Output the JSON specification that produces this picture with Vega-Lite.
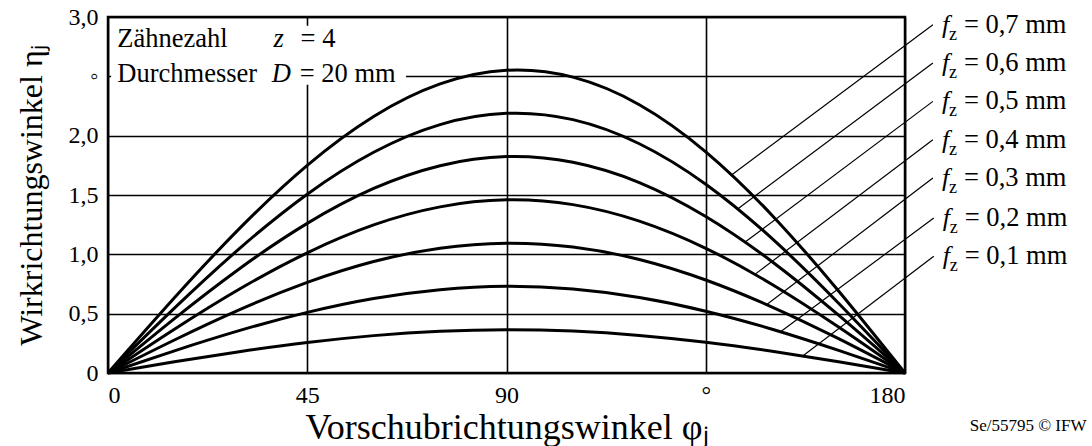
{
  "$schema": "https://vega.github.io/schema/vega-lite/v6.json",
  "width": 797,
  "height": 356,
  "autosize": "none",
  "padding": {"left": 108, "top": 17, "right": 187, "bottom": 73},
  "background": "white",
  "config": {
    "font": "Liberation Serif",
    "view": {"stroke": "black", "strokeWidth": 2.5},
    "axis": {
      "labelFont": "Liberation Serif",
      "titleFont": "Liberation Serif",
      "labelColor": "black",
      "titleColor": "black",
      "titleFontWeight": "normal",
      "grid": true,
      "gridColor": "black",
      "gridWidth": 1.6,
      "gridOpacity": 1,
      "ticks": false,
      "domain": false
    }
  },
  "datasets": {
    "curves": [
      {"fz": 0.1, "phi": 0, "eta": 0}, {"fz": 0.1, "phi": 15, "eta": 0.094}, {"fz": 0.1, "phi": 30, "eta": 0.181}, {"fz": 0.1, "phi": 45, "eta": 0.257}, {"fz": 0.1, "phi": 60, "eta": 0.315}, {"fz": 0.1, "phi": 75, "eta": 0.352}, {"fz": 0.1, "phi": 90, "eta": 0.365}, {"fz": 0.1, "phi": 105, "eta": 0.353}, {"fz": 0.1, "phi": 120, "eta": 0.317}, {"fz": 0.1, "phi": 135, "eta": 0.259}, {"fz": 0.1, "phi": 150, "eta": 0.183}, {"fz": 0.1, "phi": 165, "eta": 0.095}, {"fz": 0.1, "phi": 180, "eta": 0},
      {"fz": 0.2, "phi": 0, "eta": 0}, {"fz": 0.2, "phi": 15, "eta": 0.187}, {"fz": 0.2, "phi": 30, "eta": 0.361}, {"fz": 0.2, "phi": 45, "eta": 0.511}, {"fz": 0.2, "phi": 60, "eta": 0.628}, {"fz": 0.2, "phi": 75, "eta": 0.702}, {"fz": 0.2, "phi": 90, "eta": 0.730}, {"fz": 0.2, "phi": 105, "eta": 0.707}, {"fz": 0.2, "phi": 120, "eta": 0.636}, {"fz": 0.2, "phi": 135, "eta": 0.521}, {"fz": 0.2, "phi": 150, "eta": 0.369}, {"fz": 0.2, "phi": 165, "eta": 0.191}, {"fz": 0.2, "phi": 180, "eta": 0},
      {"fz": 0.3, "phi": 0, "eta": 0}, {"fz": 0.3, "phi": 15, "eta": 0.278}, {"fz": 0.3, "phi": 30, "eta": 0.538}, {"fz": 0.3, "phi": 45, "eta": 0.763}, {"fz": 0.3, "phi": 60, "eta": 0.939}, {"fz": 0.3, "phi": 75, "eta": 1.052}, {"fz": 0.3, "phi": 90, "eta": 1.094}, {"fz": 0.3, "phi": 105, "eta": 1.062}, {"fz": 0.3, "phi": 120, "eta": 0.957}, {"fz": 0.3, "phi": 135, "eta": 0.784}, {"fz": 0.3, "phi": 150, "eta": 0.556}, {"fz": 0.3, "phi": 165, "eta": 0.289}, {"fz": 0.3, "phi": 180, "eta": 0},
      {"fz": 0.4, "phi": 0, "eta": 0}, {"fz": 0.4, "phi": 15, "eta": 0.369}, {"fz": 0.4, "phi": 30, "eta": 0.714}, {"fz": 0.4, "phi": 45, "eta": 1.013}, {"fz": 0.4, "phi": 60, "eta": 1.248}, {"fz": 0.4, "phi": 75, "eta": 1.400}, {"fz": 0.4, "phi": 90, "eta": 1.459}, {"fz": 0.4, "phi": 105, "eta": 1.419}, {"fz": 0.4, "phi": 120, "eta": 1.280}, {"fz": 0.4, "phi": 135, "eta": 1.051}, {"fz": 0.4, "phi": 150, "eta": 0.746}, {"fz": 0.4, "phi": 165, "eta": 0.387}, {"fz": 0.4, "phi": 180, "eta": 0},
      {"fz": 0.5, "phi": 0, "eta": 0}, {"fz": 0.5, "phi": 15, "eta": 0.458}, {"fz": 0.5, "phi": 30, "eta": 0.887}, {"fz": 0.5, "phi": 45, "eta": 1.261}, {"fz": 0.5, "phi": 60, "eta": 1.555}, {"fz": 0.5, "phi": 75, "eta": 1.747}, {"fz": 0.5, "phi": 90, "eta": 1.824}, {"fz": 0.5, "phi": 105, "eta": 1.776}, {"fz": 0.5, "phi": 120, "eta": 1.605}, {"fz": 0.5, "phi": 135, "eta": 1.319}, {"fz": 0.5, "phi": 150, "eta": 0.938}, {"fz": 0.5, "phi": 165, "eta": 0.487}, {"fz": 0.5, "phi": 180, "eta": 0},
      {"fz": 0.6, "phi": 0, "eta": 0}, {"fz": 0.6, "phi": 15, "eta": 0.546}, {"fz": 0.6, "phi": 30, "eta": 1.059}, {"fz": 0.6, "phi": 45, "eta": 1.507}, {"fz": 0.6, "phi": 60, "eta": 1.860}, {"fz": 0.6, "phi": 75, "eta": 2.093}, {"fz": 0.6, "phi": 90, "eta": 2.188}, {"fz": 0.6, "phi": 105, "eta": 2.135}, {"fz": 0.6, "phi": 120, "eta": 1.932}, {"fz": 0.6, "phi": 135, "eta": 1.591}, {"fz": 0.6, "phi": 150, "eta": 1.132}, {"fz": 0.6, "phi": 165, "eta": 0.588}, {"fz": 0.6, "phi": 180, "eta": 0},
      {"fz": 0.7, "phi": 0, "eta": 0}, {"fz": 0.7, "phi": 15, "eta": 0.634}, {"fz": 0.7, "phi": 30, "eta": 1.229}, {"fz": 0.7, "phi": 45, "eta": 1.750}, {"fz": 0.7, "phi": 60, "eta": 2.162}, {"fz": 0.7, "phi": 75, "eta": 2.436}, {"fz": 0.7, "phi": 90, "eta": 2.551}, {"fz": 0.7, "phi": 105, "eta": 2.493}, {"fz": 0.7, "phi": 120, "eta": 2.261}, {"fz": 0.7, "phi": 135, "eta": 1.864}, {"fz": 0.7, "phi": 150, "eta": 1.328}, {"fz": 0.7, "phi": 165, "eta": 0.691}, {"fz": 0.7, "phi": 180, "eta": 0}
    ],
    "leaders": [
      {"fz": 0.7, "phi": 140.9, "eta": 1.670, "phi2": 186.3, "eta2": 2.935, "label": "= 0,7 mm"},
      {"fz": 0.6, "phi": 142.2, "eta": 1.382, "phi2": 186.3, "eta2": 2.612, "label": "= 0,6 mm"},
      {"fz": 0.5, "phi": 143.9, "eta": 1.104, "phi2": 186.3, "eta2": 2.289, "label": "= 0,5 mm"},
      {"fz": 0.4, "phi": 146.1, "eta": 0.831, "phi2": 186.3, "eta2": 1.966, "label": "= 0,4 mm"},
      {"fz": 0.3, "phi": 148.8, "eta": 0.577, "phi2": 186.3, "eta2": 1.643, "label": "= 0,3 mm"},
      {"fz": 0.2, "phi": 151.9, "eta": 0.347, "phi2": 186.5, "eta2": 1.306, "label": "= 0,2 mm"},
      {"fz": 0.1, "phi": 156.9, "eta": 0.144, "phi2": 186.5, "eta2": 0.983, "label": "= 0,1 mm"}
    ],
    "legendBox": [
      {"phi": 0.7, "phi2": 67.3, "eta": 2.43, "eta2": 2.927}
    ],
    "notes": [
      {"kind": "word", "t": "Zähnezahl", "phi": 2.1, "eta": 2.75},
      {"kind": "symbol", "t": "z", "phi": 37.4, "eta": 2.75},
      {"kind": "word", "t": "= 4", "phi": 43.5, "eta": 2.75},
      {"kind": "word", "t": "Durchmesser", "phi": 2.1, "eta": 2.455},
      {"kind": "symbol", "t": "D", "phi": 37.0, "eta": 2.455},
      {"kind": "word", "t": "= 20 mm", "phi": 43.3, "eta": 2.455},
      {"kind": "source", "t": "Se/55795 © IFW", "phi": 221, "eta": -0.49}
    ]
  },
  "encoding": {
    "x": {
      "field": "phi",
      "type": "quantitative",
      "scale": {"domain": [0, 180], "nice": false, "zero": false},
      "axis": {
        "title": "Vorschubrichtungswinkel φⱼ",
        "values": [0, 45, 90, 135, 180],
        "labelExpr": "datum.value == 135 ? '°' : datum.label",
        "labelFontSize": 24,
        "labelPadding": 10,
        "titleFontSize": 36,
        "titlePadding": 3
      }
    },
    "y": {
      "field": "eta",
      "type": "quantitative",
      "scale": {"domain": [0, 3], "nice": false, "zero": false},
      "axis": {
        "title": "Wirkrichtungswinkel ηⱼ",
        "values": [0, 0.5, 1, 1.5, 2, 2.5, 3],
        "labelExpr": "datum.value == 2.5 ? '◦' : (datum.value == 0 ? '0' : replace(format(datum.value, '.1f'), '.', ','))",
        "labelFontSize": 24,
        "labelPadding": 10,
        "titleFontSize": 32,
        "titlePadding": 20
      }
    }
  },
  "layer": [
    {
      "data": {"name": "legendBox"},
      "mark": {"type": "rect", "fill": "white", "strokeWidth": 0},
      "encoding": {
        "x2": {"field": "phi2"},
        "y2": {"field": "eta2"}
      }
    },
    {
      "data": {"name": "curves"},
      "mark": {"type": "line", "color": "black", "strokeWidth": 3, "interpolate": "natural"},
      "encoding": {"detail": {"field": "fz", "type": "nominal"}}
    },
    {
      "data": {"name": "leaders"},
      "mark": {"type": "rule", "color": "black", "strokeWidth": 1.2, "clip": false},
      "encoding": {"x2": {"field": "phi2"}, "y2": {"field": "eta2"}}
    },
    {
      "data": {"name": "leaders"},
      "mark": {"type": "text", "text": "f", "fontStyle": "italic", "fontSize": 26, "align": "left", "baseline": "alphabetic", "dx": 9, "dy": 8, "color": "black"},
      "encoding": {"x": {"field": "phi2", "type": "quantitative"}, "y": {"field": "eta2", "type": "quantitative"}}
    },
    {
      "data": {"name": "leaders"},
      "mark": {"type": "text", "text": "z", "fontSize": 18, "align": "left", "baseline": "alphabetic", "dx": 16, "dy": 15, "color": "black"},
      "encoding": {"x": {"field": "phi2", "type": "quantitative"}, "y": {"field": "eta2", "type": "quantitative"}}
    },
    {
      "data": {"name": "leaders"},
      "mark": {"type": "text", "fontSize": 26.5, "align": "left", "baseline": "alphabetic", "dx": 31, "dy": 8, "color": "black"},
      "encoding": {"x": {"field": "phi2", "type": "quantitative"}, "y": {"field": "eta2", "type": "quantitative"}, "text": {"field": "label"}}
    },
    {
      "data": {"name": "notes"},
      "transform": [{"filter": "datum.kind == 'word'"}],
      "mark": {"type": "text", "fontSize": 26.5, "align": "left", "baseline": "alphabetic", "color": "black"},
      "encoding": {"text": {"field": "t"}}
    },
    {
      "data": {"name": "notes"},
      "transform": [{"filter": "datum.kind == 'symbol'"}],
      "mark": {"type": "text", "fontSize": 26.5, "fontStyle": "italic", "align": "left", "baseline": "alphabetic", "color": "black"},
      "encoding": {"text": {"field": "t"}}
    },
    {
      "data": {"name": "notes"},
      "transform": [{"filter": "datum.kind == 'source'"}],
      "mark": {"type": "text", "fontSize": 17, "align": "right", "baseline": "alphabetic", "color": "black"},
      "encoding": {"text": {"field": "t"}}
    }
  ]
}
